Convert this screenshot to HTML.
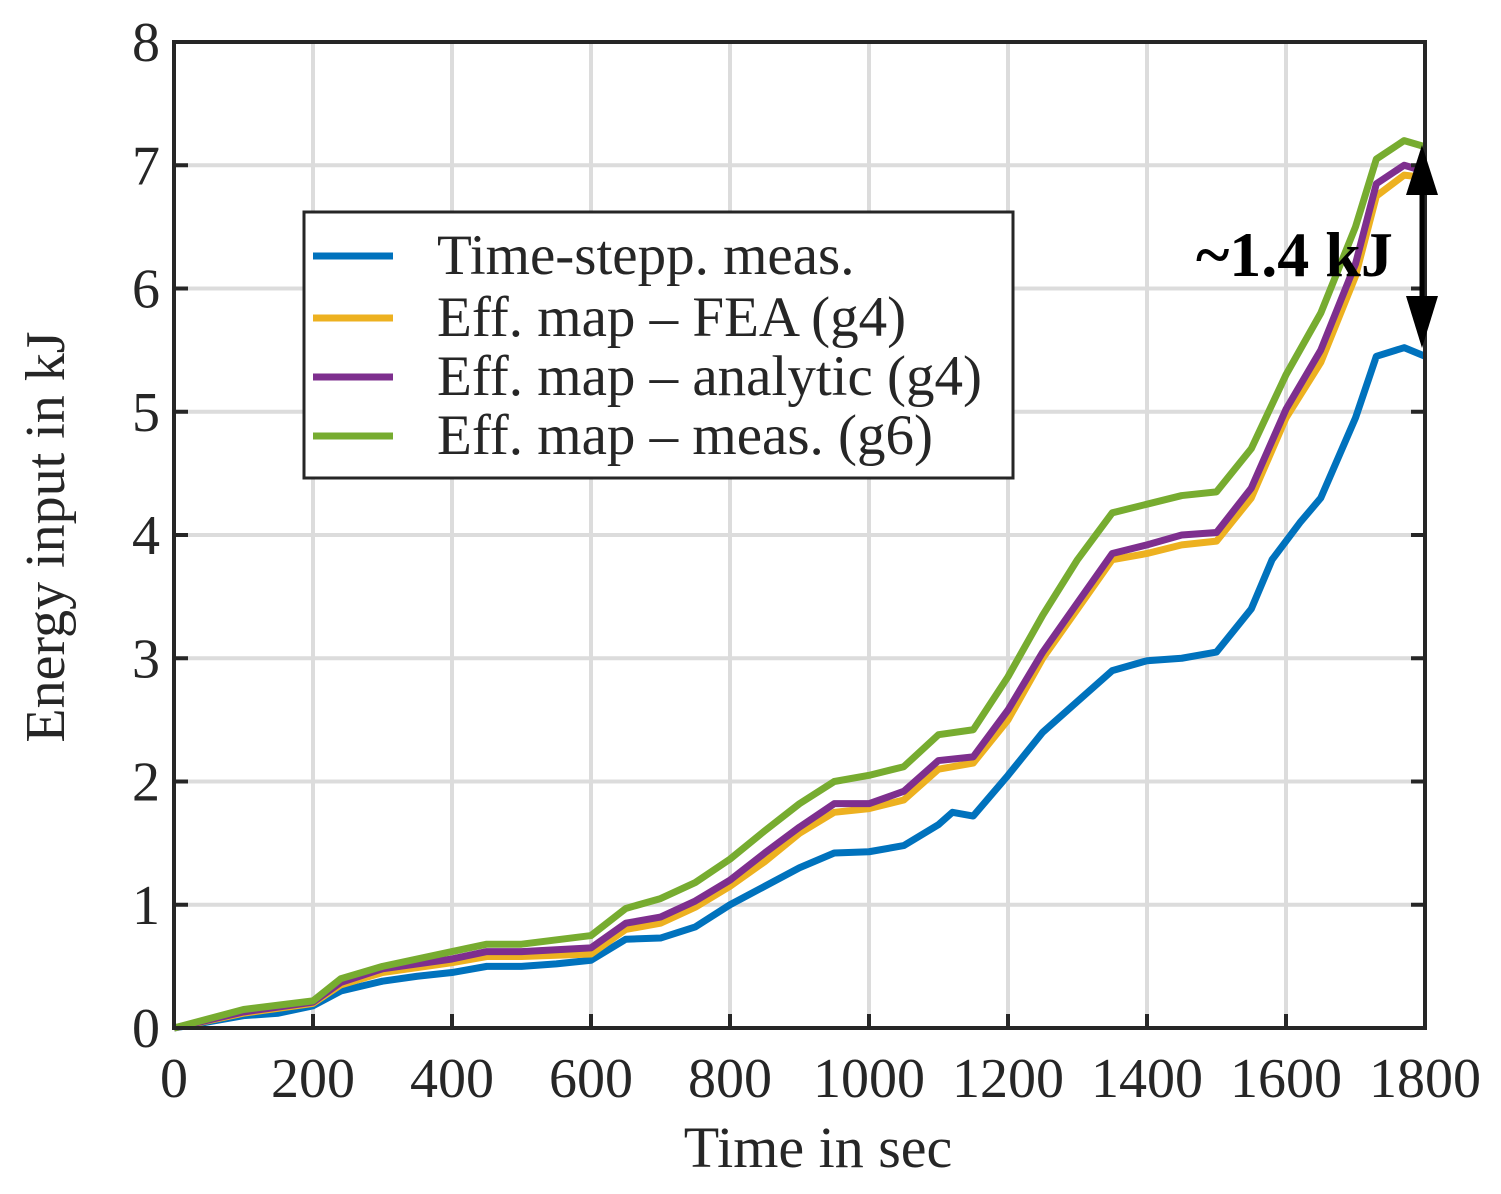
<!DOCTYPE html>
<html><head><meta charset="utf-8"><style>
html,body{margin:0;padding:0;background:#fff}
svg text{font-family:"Liberation Serif",serif;fill:#262626}
</style></head><body>
<svg width="1501" height="1189" viewBox="0 0 1501 1189">
<g id="grid"></g>
<g id="series"></g>
<g id="axes"></g>
<text x="818" y="1167" font-size="58" text-anchor="middle">Time in sec</text>
<text transform="translate(64,537) rotate(-90)" font-size="56" text-anchor="middle">Energy input in kJ</text>
<g>
<rect x="304" y="212" width="709" height="266" fill="#fff" stroke="#262626" stroke-width="3"/>
<line x1="313" y1="256" x2="393" y2="256" stroke="#0072BD" stroke-width="7"/>
<text x="437" y="274" font-size="57">Time-stepp. meas.</text>
<line x1="313" y1="318" x2="393" y2="318" stroke="#EDB120" stroke-width="7"/>
<text x="437" y="336" font-size="57">Eff. map – FEA (g4)</text>
<line x1="313" y1="377" x2="393" y2="377" stroke="#7E2F8E" stroke-width="7"/>
<text x="437" y="395" font-size="57">Eff. map – analytic (g4)</text>
<line x1="313" y1="436" x2="393" y2="436" stroke="#77AC30" stroke-width="7"/>
<text x="437" y="454" font-size="57">Eff. map – meas. (g6)</text>
</g>
<g id="annot">
<line x1="1422" y1="190" x2="1422" y2="300" stroke="#000" stroke-width="5"/>
<polygon points="1422,145 1406,195 1438,195" fill="#000"/>
<polygon points="1422,348 1406,296 1438,296" fill="#000"/>
<text x="1196" y="276" font-size="64" font-weight="bold" style="fill:#000">~1.4 kJ</text>
</g>
</svg>
<script>
const xTicks=[0,200,400,600,800,1000,1200,1400,1600,1800];
const yTicks=[0,1,2,3,4,5,6,7,8];
const tBlue=[0,50,100,150,200,240,300,350,400,450,500,550,600,650,700,750,800,850,900,950,1000,1050,1100,1120,1150,1200,1250,1300,1350,1400,1450,1500,1550,1580,1620,1650,1700,1730,1770,1800];
const vBlue=[0,0.05,0.1,0.12,0.18,0.3,0.38,0.42,0.45,0.5,0.5,0.52,0.55,0.72,0.73,0.82,1.0,1.15,1.3,1.42,1.43,1.48,1.65,1.75,1.72,2.05,2.4,2.65,2.9,2.98,3.0,3.05,3.4,3.8,4.1,4.3,4.95,5.45,5.52,5.45];
const tEff=[0,100,200,240,300,400,450,500,600,650,700,750,800,850,900,950,1000,1050,1100,1150,1200,1250,1300,1350,1400,1450,1500,1550,1600,1650,1700,1730,1770,1800];
const vFea=[0,0.12,0.2,0.35,0.45,0.53,0.58,0.58,0.6,0.8,0.85,0.98,1.15,1.35,1.58,1.75,1.78,1.85,2.1,2.15,2.5,3.0,3.4,3.8,3.85,3.92,3.95,4.3,4.95,5.4,6.1,6.75,6.92,6.9];
const vAna=[0,0.13,0.21,0.37,0.48,0.56,0.62,0.62,0.65,0.85,0.9,1.03,1.2,1.42,1.63,1.82,1.82,1.92,2.17,2.2,2.58,3.05,3.45,3.85,3.92,4.0,4.02,4.38,5.02,5.5,6.2,6.85,7.0,6.95];
const vMeas=[0,0.15,0.22,0.4,0.5,0.62,0.68,0.68,0.75,0.97,1.05,1.18,1.37,1.6,1.82,2.0,2.05,2.12,2.38,2.42,2.85,3.35,3.8,4.18,4.25,4.32,4.35,4.7,5.3,5.8,6.5,7.05,7.2,7.15];
const X0=174,X1=1425,Y0=1028,Y1=42;
const sx=t=>X0+(t/1800)*(X1-X0);
const sy=v=>Y0-(v/8)*(Y0-Y1);
const NS='http://www.w3.org/2000/svg';
function mk(tag,attrs,parent){const e=document.createElementNS(NS,tag);for(const k in attrs)e.setAttribute(k,attrs[k]);parent.appendChild(e);return e;}
const grid=document.getElementById('grid'),axes=document.getElementById('axes'),series=document.getElementById('series');
xTicks.forEach(t=>{
 const g=mk('line',{x1:sx(t),y1:Y1,x2:sx(t),y2:Y0,stroke:'#dcdcdc','stroke-width':4},grid);
 
 
 const tk=mk('line',{x1:sx(t),y1:Y0,x2:sx(t),y2:Y0-14,stroke:'#262626','stroke-width':4},axes);
 
 
 const tx=mk('text',{x:sx(t),y:1097,'font-size':56,'text-anchor':'middle'},axes);
 tx.textContent=t;
 
 
});
yTicks.forEach(v=>{
 const g=mk('line',{x1:X0,y1:sy(v),x2:X1,y2:sy(v),stroke:'#dcdcdc','stroke-width':4},grid);
 
 
 const tk=mk('line',{x1:X0,y1:sy(v),x2:X0+14,y2:sy(v),stroke:'#262626','stroke-width':4},axes);
 
 
 const tk2=mk('line',{x1:X1,y1:sy(v),x2:X1-14,y2:sy(v),stroke:'#262626','stroke-width':4},axes);
 
 
 const tx=mk('text',{x:160,y:sy(v)+19,'font-size':56,'text-anchor':'end'},axes);
 tx.textContent=v;
 
 
});
const box=mk('rect',{x:X0,y:Y1,width:X1-X0,height:Y0-Y1,fill:'none',stroke:'#262626','stroke-width':4},axes);


function line(ts,vs,color,name){
 const p=mk('polyline',{points:ts.map((t,i)=>sx(t)+','+sy(vs[i])).join(' '),fill:'none',stroke:color,'stroke-width':7,'stroke-linejoin':'round'},series);
 
 
}
line(tBlue,vBlue,'#0072BD','line-time-stepp-meas');
line(tEff,vFea,'#EDB120','line-eff-map-fea');
line(tEff,vAna,'#7E2F8E','line-eff-map-analytic');
line(tEff,vMeas,'#77AC30','line-eff-map-meas');
</script>
</body></html>
